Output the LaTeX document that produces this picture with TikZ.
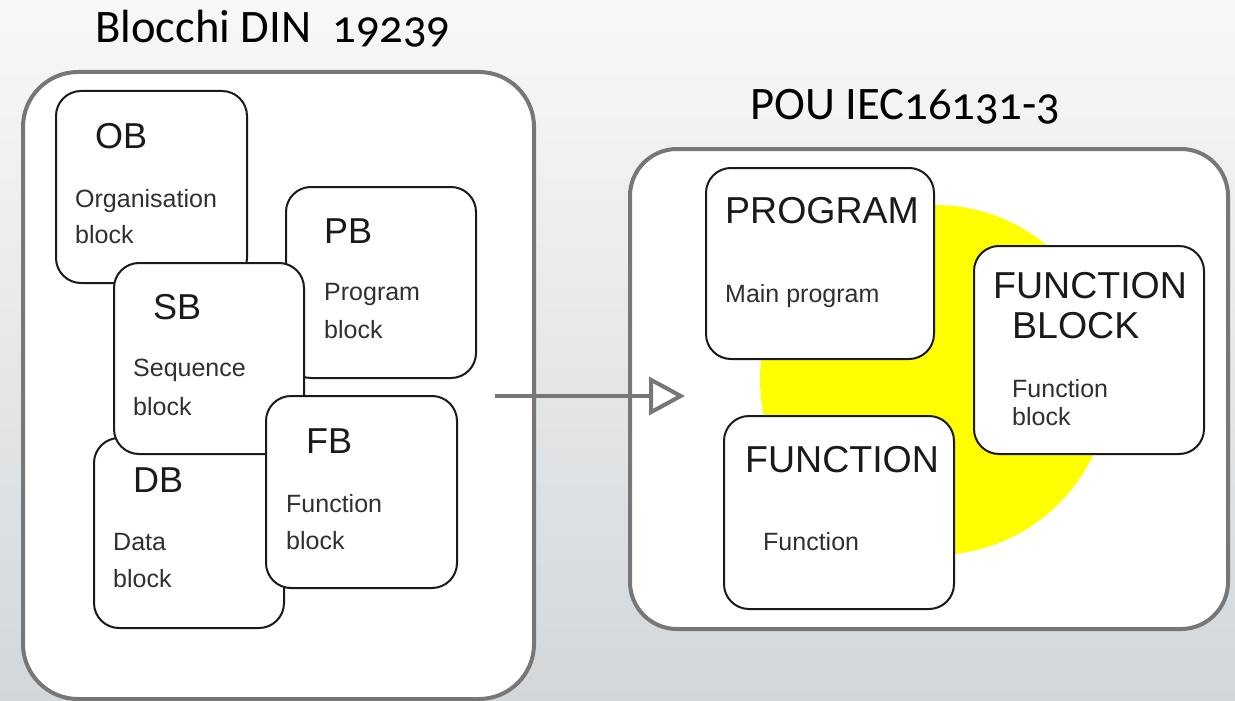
\documentclass[tikz,border=0pt]{standalone}
\usepackage{fontspec}
\setmainfont{Carlito}[Numbers=OldStyle]
\newfontfamily\boxfont{Liberation Sans}
\usetikzlibrary{arrows.meta}

\definecolor{bgtop}{HTML}{F8F8F8}
\definecolor{bgbot}{HTML}{D3D7DA}
\definecolor{framegray}{HTML}{777777}
\definecolor{sun}{HTML}{FFFF00}
\definecolor{ink}{HTML}{1A1A1A}
\definecolor{softink}{HTML}{303030}

\tikzset{
  container/.style={draw=framegray, line width=4pt, fill=white, inner sep=0pt,
    anchor=north west},
  blk/.style={draw=ink, line width=2pt, fill=white, rounded corners=25pt,
    inner sep=0pt, anchor=north west},
  title/.style={anchor=base west, inner sep=0pt, text=black,
    font=\fontsize{46.6}{50}\selectfont},
  bighead/.style={anchor=base west, inner sep=0pt, text=ink,
    font=\boxfont\fontsize{36}{40}\selectfont},
  caphead/.style={anchor=base west, inner sep=0pt, text=ink,
    font=\boxfont\fontsize{37.5}{40}\selectfont},
  small/.style={anchor=base west, inner sep=0pt, text=softink,
    font=\boxfont\fontsize{25}{28}\selectfont},
  arrowline/.style={draw=framegray, line width=4pt,
    -{Triangle[open, length=36pt, width=38pt]}},
}

\begin{document}
\begin{tikzpicture}[x=1pt, y=-1pt]
  % page background
  \useasboundingbox (0,0) rectangle (1235,701);
  \shade[top color=bgtop, bottom color=bgbot] (0,0) rectangle (1235,701);

  % headings
  \node[title] (tdin) at (95,43) {Blocchi DIN\ \ 19239};
  \node[title] (tiec) at (750,119) {POU IEC16131-3};

  % outer frames
  \node[container, rounded corners=55pt, minimum width=511pt,
        minimum height=627pt] (din) at (21,70) {};
  \node[container, rounded corners=47pt, minimum width=598pt,
        minimum height=480pt] (iec) at (628,147) {};

  % transition arrow
  \coordinate (arrS) at (495,396);
  \coordinate (arrE) at (685,396);
  \draw[arrowline] (arrS) -- (arrE);

  % DIN 19239 blocks
  \node[blk, minimum width=191pt, minimum height=192pt] (ob) at (55,90) {};
  \node[bighead] at (95,148) {OB};
  \node[small] at (75,207) {Organisation};
  \node[small] at (75,243) {block};

  \node[blk, minimum width=190pt, minimum height=191pt] (pb) at (285,186) {};
  \node[bighead] at (324,243) {PB};
  \node[small] at (324,300) {Program};
  \node[small] at (324,338) {block};

  \node[blk, minimum width=190pt, minimum height=190pt] (db) at (93,437) {};
  \node[bighead] at (133,492) {DB};
  \node[small] at (113,550) {Data};
  \node[small] at (113,587) {block};

  \node[blk, minimum width=190pt, minimum height=191pt] (sb) at (113,262) {};
  \node[bighead] at (153,319) {SB};
  \node[small] at (133,376) {Sequence};
  \node[small] at (133,415) {block};

  \node[blk, minimum width=191pt, minimum height=192pt] (fb) at (265,395) {};
  \node[bighead] at (306,453) {FB};
  \node[small] at (286,512) {Function};
  \node[small] at (286,549) {block};

  % IEC 61131-3 program organisation units
  \node[circle, fill=sun, minimum size=350pt, inner sep=0pt] (sunc) at (935,380) {};

  \node[blk, minimum width=228pt, minimum height=191pt] (prog) at (705,167) {};
  \node[caphead] at (725,223) {PROGRAM};
  \node[small] at (725,302) {Main program};

  \node[blk, minimum width=230pt, minimum height=208pt] (fblk) at (973,245) {};
  \node[caphead] at (993,298) {FUNCTION};
  \node[caphead] at (1012,338) {BLOCK};
  \node[small] at (1012,397) {Function};
  \node[small] at (1012,425) {block};

  \node[blk, minimum width=230pt, minimum height=193pt] (func) at (723,415) {};
  \node[caphead] at (745,472) {FUNCTION};
  \node[small] at (763,550) {Function};
\end{tikzpicture}
\end{document}
